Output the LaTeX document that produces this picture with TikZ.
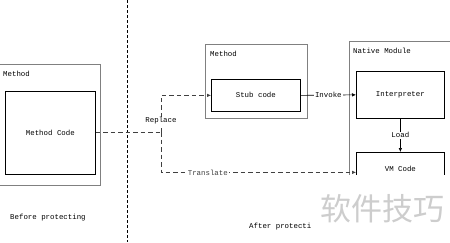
\documentclass[tikz,border=0pt]{standalone}
\usepackage{fontspec}
\setmainfont{Liberation Mono}
\newfontfamily\cjkfont{Noto Sans CJK SC}
\usetikzlibrary{positioning, arrows.meta}

\definecolor{framegray}{RGB}{128, 128, 128}
\definecolor{markgray}{RGB}{205, 205, 205}

\tikzset{
  modbox/.style={draw=framegray, line width=1.2pt, anchor=north west, inner sep=0pt},
  codebox/.style={draw=black, line width=0.7pt, anchor=north west, inner sep=0pt},
  caption/.style={anchor=west, inner sep=0pt},
  flow/.style={dashed, dash pattern=on 4.5pt off 3pt, line width=0.6pt, color=black!75},
  tip/.style={-{Latex[length=4pt,width=3.5pt]}},
  lbl/.style={fill=white, inner sep=1pt}
}

\begin{document}
\begin{tikzpicture}[x=1pt, y=-1pt, every node/.style={font=\fontsize{7.4}{9}\selectfont}]
        \useasboundingbox (0,0) rectangle (450,242);
        \clip (0,0) rectangle (450,242);
        % divider
        \coordinate (divtop) at (127,0);
        \coordinate (divbot) at (127,242);
        \draw[dash pattern=on 3pt off 2pt, line width=0.6pt] (divtop) -- (divbot);
        % before protecting
        \node[modbox, minimum width=111, minimum height=121] (mleft) at (-11,64) {};
        \node[caption] (mleftlbl) at (3,74) {Method};
        \node[codebox, minimum width=90, minimum height=83] (mcode) at (5,91) {Method Code};
        \node[caption] (before) at (10,218) {Before protecting};
        % after protecting
        \node[modbox, minimum width=102, minimum height=74] (mright) at (205,44) {};
        \node[caption] (mrightlbl) at (210,54) {Method};
        \node[codebox, minimum width=89, minimum height=32] (stub) at (211,79) {Stub code};
        \node[modbox, minimum width=120, minimum height=170] (native) at (349,41) {};
        \node[caption] (nativelbl) at (353,51) {Native Module};
        \node[codebox, minimum width=88, minimum height=47] (interp) at (356,71) {Interpreter};
        \node[codebox, minimum width=88, minimum height=40, text depth=8pt] (vm) at (356,152) {VM Code};
        % connectors
        \coordinate (split) at (161,132);
        \draw[flow] (mcode.east |- split) -- (split);
        \draw[flow, tip] (split) |- (stub.west);
        \draw[flow, tip] (split) |- (vm.west) node[lbl, pos=0.62] (trlbl) {Translate};
        \node[lbl] (replbl) at (161,121) {Replace};
        \draw[line width=0.6pt, tip] (stub.east) -- (interp.west) node[lbl, midway] (invlbl) {Invoke};
        \draw[line width=0.6pt, tip] (interp.south) -- (vm.north) node[lbl, midway] (loadlbl) {Load};
        % watermark
        \fill[white] (317,175) rectangle (450,242);
        \node[caption] (after) at (249,227) {After protecti};
        \fill[white] (317,175) rectangle (450,242);
        \node[anchor=center, text=markgray, font=\cjkfont\fontsize{31}{34}\selectfont] (mark) at (382,209) {软件技巧};
      \end{tikzpicture}
\end{document}
